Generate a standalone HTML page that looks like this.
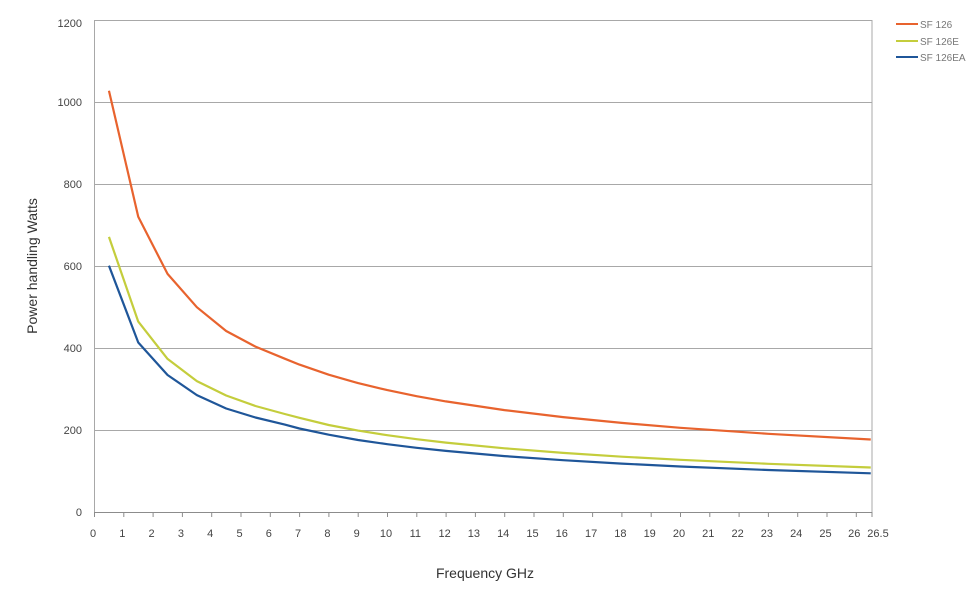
<!DOCTYPE html>
<html><head><meta charset="utf-8"><style>
html,body{margin:0;padding:0;background:#fff;}
svg{display:block;font-family:"Liberation Sans",sans-serif;}
</style></head><body>
<svg width="980" height="591" viewBox="0 0 980 591" xmlns="http://www.w3.org/2000/svg">
<rect width="980" height="591" fill="#fff"/>
<g stroke="#a8a8a8" stroke-width="1" fill="none">
<line x1="94.5" y1="20.5" x2="872" y2="20.5"/>
<line x1="94.5" y1="102.5" x2="872" y2="102.5"/>
<line x1="94.5" y1="184.5" x2="872" y2="184.5"/>
<line x1="94.5" y1="266.5" x2="872" y2="266.5"/>
<line x1="94.5" y1="348.5" x2="872" y2="348.5"/>
<line x1="94.5" y1="430.5" x2="872" y2="430.5"/>
<line x1="94.5" y1="20" x2="94.5" y2="513"/>
<line x1="872" y1="20" x2="872" y2="513"/>
</g>
<g stroke="#8c8c8c" stroke-width="1">
<line x1="94.5" y1="512.5" x2="872" y2="512.5"/>
<line x1="94.5" y1="512" x2="94.5" y2="517"/><line x1="123.8" y1="512" x2="123.8" y2="517"/><line x1="153.1" y1="512" x2="153.1" y2="517"/><line x1="182.4" y1="512" x2="182.4" y2="517"/><line x1="211.7" y1="512" x2="211.7" y2="517"/><line x1="241" y1="512" x2="241" y2="517"/><line x1="270.3" y1="512" x2="270.3" y2="517"/><line x1="299.6" y1="512" x2="299.6" y2="517"/><line x1="328.9" y1="512" x2="328.9" y2="517"/><line x1="358.2" y1="512" x2="358.2" y2="517"/><line x1="387.5" y1="512" x2="387.5" y2="517"/><line x1="416.8" y1="512" x2="416.8" y2="517"/><line x1="446.1" y1="512" x2="446.1" y2="517"/><line x1="475.4" y1="512" x2="475.4" y2="517"/><line x1="504.7" y1="512" x2="504.7" y2="517"/><line x1="534" y1="512" x2="534" y2="517"/><line x1="563.3" y1="512" x2="563.3" y2="517"/><line x1="592.6" y1="512" x2="592.6" y2="517"/><line x1="621.9" y1="512" x2="621.9" y2="517"/><line x1="651.2" y1="512" x2="651.2" y2="517"/><line x1="680.5" y1="512" x2="680.5" y2="517"/><line x1="709.8" y1="512" x2="709.8" y2="517"/><line x1="739.1" y1="512" x2="739.1" y2="517"/><line x1="768.4" y1="512" x2="768.4" y2="517"/><line x1="797.7" y1="512" x2="797.7" y2="517"/><line x1="827" y1="512" x2="827" y2="517"/><line x1="856.3" y1="512" x2="856.3" y2="517"/><line x1="872" y1="512" x2="872" y2="517"/>
</g>
<g font-size="11" fill="#444" text-anchor="end">
<text x="82" y="27">1200</text>
<text x="82" y="106">1000</text>
<text x="82" y="188">800</text>
<text x="82" y="270">600</text>
<text x="82" y="352">400</text>
<text x="82" y="434">200</text>
<text x="82" y="516">0</text>
</g>
<g font-size="11" fill="#444" text-anchor="middle">
<text x="93" y="537">0</text><text x="122.3" y="537">1</text><text x="151.6" y="537">2</text><text x="180.9" y="537">3</text><text x="210.2" y="537">4</text><text x="239.5" y="537">5</text><text x="268.8" y="537">6</text><text x="298.1" y="537">7</text><text x="327.4" y="537">8</text><text x="356.7" y="537">9</text><text x="386" y="537">10</text><text x="415.3" y="537">11</text><text x="444.6" y="537">12</text><text x="473.9" y="537">13</text><text x="503.2" y="537">14</text><text x="532.5" y="537">15</text><text x="561.8" y="537">16</text><text x="591.1" y="537">17</text><text x="620.4" y="537">18</text><text x="649.7" y="537">19</text><text x="679" y="537">20</text><text x="708.3" y="537">21</text><text x="737.6" y="537">22</text><text x="766.9" y="537">23</text><text x="796.2" y="537">24</text><text x="825.5" y="537">25</text><text x="854.3" y="537">26</text><text x="878" y="537">26.5</text>
</g>
<text x="485" y="578" font-size="14" fill="#333" text-anchor="middle">Frequency GHz</text>
<text transform="translate(37,266) rotate(-90)" font-size="14" fill="#333" text-anchor="middle">Power handling Watts</text>
<g fill="none" stroke-width="2.2" stroke-linejoin="round" stroke-linecap="butt">
<polyline stroke="#E8632E" points="108.95,90.7 138.25,216.8 167.55,273.9 196.85,307.2 226.15,331.0 255.45,346.6 284.75,358.7 299.4,364.6 328.7,374.7 358,383.1 387.3,390.1 416.6,396.2 445.9,401.4 504.5,410.1 563.1,417.1 621.7,422.9 680.3,427.8 768.2,433.8 870.75,439.5"/>
<polyline stroke="#C4CD3C" points="108.95,236.9 138.25,321.6 167.55,358.9 196.85,381.1 226.15,395.5 255.45,406.0 284.75,414.0 299.4,417.8 328.7,425.0 358,430.6 387.3,435.2 416.6,439.2 445.9,442.6 504.5,448.3 563.1,452.9 621.7,456.7 680.3,459.8 768.2,463.8 870.75,467.5"/>
<polyline stroke="#1F5699" points="108.95,265.7 138.25,342.5 167.55,375.0 196.85,395.1 226.15,408.5 255.45,417.5 284.75,424.6 299.4,428.5 328.7,434.7 358,440.0 387.3,444.2 416.6,447.8 445.9,450.9 504.5,456.1 563.1,460.2 621.7,463.6 680.3,466.5 768.2,470.0 870.75,473.3"/>
</g>
<g stroke-width="2">
<line x1="896" y1="24" x2="918" y2="24" stroke="#E8632E"/>
<line x1="896" y1="41" x2="918" y2="41" stroke="#C4CD3C"/>
<line x1="896" y1="57" x2="918" y2="57" stroke="#1F5699"/>
</g>
<g font-size="10" fill="#777">
<text x="920" y="28">SF 126</text>
<text x="920" y="45">SF 126E</text>
<text x="920" y="61">SF 126EA</text>
</g>
</svg>
</body></html>
